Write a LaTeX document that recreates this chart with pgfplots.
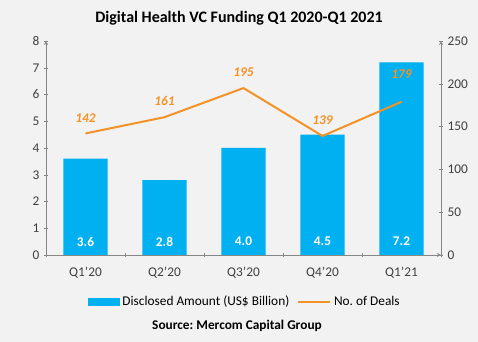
\documentclass[border=0pt]{standalone}
\usepackage{fontspec}
\setmainfont{Carlito}
\usepackage{pgfplots}
\pgfplotsset{compat=1.18}
\frenchspacing
\definecolor{bg}{HTML}{F2F2F2}
\definecolor{barblue}{HTML}{00B0F0}
\definecolor{lineorange}{HTML}{F39226}
\definecolor{axgray}{HTML}{868686}
\definecolor{txtgray}{HTML}{404040}
\begin{document}
\begin{tikzpicture}
\fill[bg] (0,0) rectangle (358.5pt,256.5pt);
\useasboundingbox (0,0) rectangle (358.5pt,256.5pt);
\pgfplotsset{
  common/.style={
    scale only axis, width=296.25pt, height=160.5pt,
    at={(34.5pt,65.25pt)}, anchor=south west,
    xmin=-0.5, xmax=4.5,
    /pgf/number format/assume math mode=true,
    tick label style={font=\fontsize{10}{12}\selectfont, text=txtgray},
    axis line style={draw=axgray, -},
    tick style={draw=axgray},
    tick align=outside,
    major tick length=3pt,
    minor tick length=3pt,
  },
  lbl/.style={every node near coord/.append style={anchor=south, yshift=#1, text=lineorange, font=\bfseries\itshape\fontsize{10}{12}\selectfont}},
}
\begin{axis}[common,
  axis x line=bottom, axis y line=left,
  ymin=0, ymax=8, ytick={0,1,...,8},
  xtick={0,1,2,3,4},
  xticklabels={Q1'20,Q2'20,Q3'20,Q4'20,Q1'21},
  x tick label style={yshift=-4pt},
  major x tick style={draw=none},
  minor xtick={-0.5,0.5,1.5,2.5,3.5,4.5},
  legend style={at={(0.504,-0.22)}, anchor=center, legend columns=2,
    draw=none, fill=none, font=\fontsize{10}{12}\selectfont,
    /tikz/every even column/.append style={column sep=4pt}},
  legend image code/.code={\fill[#1] (0pt,-3.2pt) rectangle (24pt,3.2pt);},
]
\addplot[ybar, bar width=0.56, fill=barblue, draw=none] coordinates {
  (0,3.6) (1,2.8) (2,4.0) (3,4.5) (4,7.2)};
\addlegendentry{Disclosed Amount (US\$ Billion)}
\addlegendimage{legend image code/.code={\draw[lineorange, line width=1.5pt] (0pt,0pt) -- (24pt,0pt);}}
\addlegendentry{No. of Deals}
\addplot[draw=none, mark=none, nodes near coords, point meta=explicit symbolic,
  every node near coord/.append style={anchor=center, text=white, font=\bfseries\fontsize{10}{12}\selectfont}]
  coordinates {(0,0.5)[3.6] (1,0.5)[2.8] (2,0.5)[4.0] (3,0.5)[4.5] (4,0.5)[7.2]};
\end{axis}
\begin{axis}[common,
  axis x line=none, axis y line=right,
  ymin=0, ymax=250, ytick={0,50,...,250},
]
\addplot[lineorange, line width=1.5pt, mark=none]
  coordinates {(0,142) (1,161) (2,195) (3,139) (4,179)};
\addplot[draw=none, mark=none, nodes near coords, lbl=5pt]
  coordinates {(0,142) (1,161) (2,195) (3,139)};
\addplot[draw=none, mark=none, nodes near coords, lbl=14pt]
  coordinates {(4,179)};
\end{axis}
\node[font=\bfseries\fontsize{12}{14}\selectfont] at (179.25pt,243pt) {Digital Health VC Funding Q1 2020-Q1 2021};
\node[font=\bfseries\fontsize{10}{12}\selectfont] at (177.75pt,12pt) {Source: Mercom Capital Group};
\end{tikzpicture}
\end{document}
